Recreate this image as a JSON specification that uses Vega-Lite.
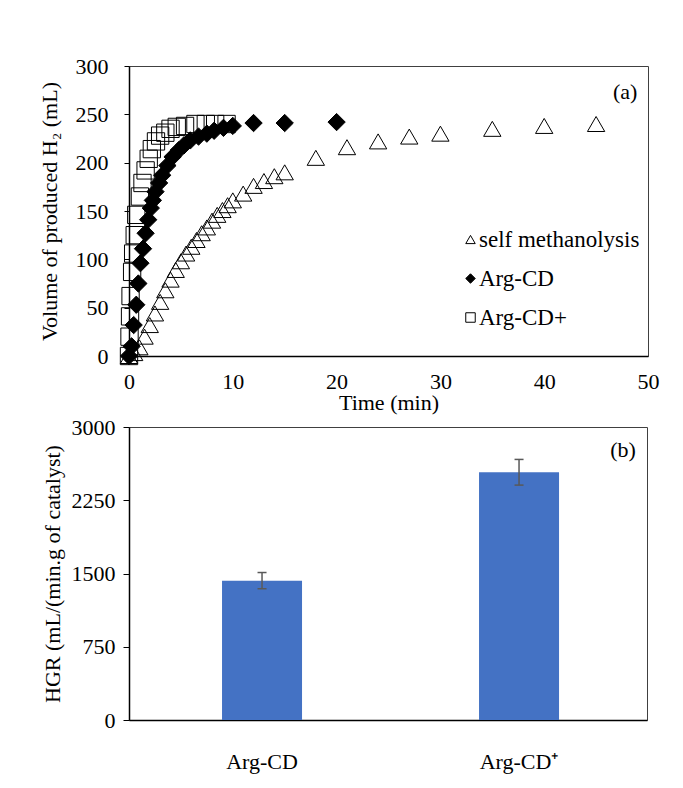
{
  "$schema": "https://vega.github.io/schema/vega-lite/v6.json",
  "padding": {"left": 37, "top": 54, "right": 10, "bottom": 10},
  "config": {
    "font": "Liberation Serif",
    "view": {"stroke": "#404040", "strokeWidth": 1},
    "axis": {
      "labelFont": "Liberation Serif", "titleFont": "Liberation Serif",
      "labelFontSize": 22, "titleFontSize": 22, "labelColor": "#000", "titleColor": "#000",
      "titleFontWeight": "normal", "domainColor": "#000", "domainWidth": 1.5, "tickColor": "#000", "grid": false,
      "labelFlush": false
    },
    "legend": {
      "labelFont": "Liberation Serif", "labelFontSize": 23, "labelColor": "#000", "labelLimit": 0,
      "symbolSize": 90, "symbolStrokeColor": "#000", "symbolStrokeWidth": 1,
      "rowPadding": 15, "labelOffset": -3, "padding": 0
    }
  },
  "concat": [
    {
      "width": 519, "height": 290,
      "data": {"values": [
        {"s": "self methanolysis", "t": 0, "v": 0},
        {"s": "self methanolysis", "t": 0.5, "v": 3},
        {"s": "self methanolysis", "t": 1, "v": 9},
        {"s": "self methanolysis", "t": 1.5, "v": 20},
        {"s": "self methanolysis", "t": 2, "v": 32},
        {"s": "self methanolysis", "t": 2.5, "v": 44},
        {"s": "self methanolysis", "t": 3, "v": 56},
        {"s": "self methanolysis", "t": 3.5, "v": 68},
        {"s": "self methanolysis", "t": 4, "v": 79},
        {"s": "self methanolysis", "t": 4.5, "v": 89},
        {"s": "self methanolysis", "t": 5, "v": 98},
        {"s": "self methanolysis", "t": 5.5, "v": 106},
        {"s": "self methanolysis", "t": 6, "v": 113},
        {"s": "self methanolysis", "t": 6.5, "v": 120},
        {"s": "self methanolysis", "t": 7, "v": 127},
        {"s": "self methanolysis", "t": 7.5, "v": 133},
        {"s": "self methanolysis", "t": 8, "v": 140},
        {"s": "self methanolysis", "t": 8.5, "v": 146},
        {"s": "self methanolysis", "t": 9, "v": 151},
        {"s": "self methanolysis", "t": 9.5, "v": 156},
        {"s": "self methanolysis", "t": 10, "v": 161},
        {"s": "self methanolysis", "t": 11, "v": 168},
        {"s": "self methanolysis", "t": 12, "v": 176},
        {"s": "self methanolysis", "t": 13, "v": 181},
        {"s": "self methanolysis", "t": 14, "v": 186},
        {"s": "self methanolysis", "t": 15, "v": 190},
        {"s": "self methanolysis", "t": 18, "v": 205},
        {"s": "self methanolysis", "t": 21, "v": 216},
        {"s": "self methanolysis", "t": 24, "v": 222},
        {"s": "self methanolysis", "t": 27, "v": 227},
        {"s": "self methanolysis", "t": 30, "v": 230},
        {"s": "self methanolysis", "t": 35, "v": 235},
        {"s": "self methanolysis", "t": 40, "v": 238},
        {"s": "self methanolysis", "t": 45, "v": 240},
        {"s": "Arg-CD+", "t": 0, "v": 0},
        {"s": "Arg-CD+", "t": 0.05, "v": 20},
        {"s": "Arg-CD+", "t": 0.1, "v": 41},
        {"s": "Arg-CD+", "t": 0.15, "v": 62},
        {"s": "Arg-CD+", "t": 0.3, "v": 87},
        {"s": "Arg-CD+", "t": 0.4, "v": 106},
        {"s": "Arg-CD+", "t": 0.55, "v": 125},
        {"s": "Arg-CD+", "t": 0.7, "v": 146},
        {"s": "Arg-CD+", "t": 1.05, "v": 165},
        {"s": "Arg-CD+", "t": 1.3, "v": 179},
        {"s": "Arg-CD+", "t": 1.6, "v": 192},
        {"s": "Arg-CD+", "t": 1.9, "v": 204},
        {"s": "Arg-CD+", "t": 2.2, "v": 214},
        {"s": "Arg-CD+", "t": 2.6, "v": 222},
        {"s": "Arg-CD+", "t": 3, "v": 228},
        {"s": "Arg-CD+", "t": 3.5, "v": 231},
        {"s": "Arg-CD+", "t": 4, "v": 235},
        {"s": "Arg-CD+", "t": 4.6, "v": 237},
        {"s": "Arg-CD+", "t": 5.4, "v": 238},
        {"s": "Arg-CD+", "t": 6.4, "v": 240},
        {"s": "Arg-CD+", "t": 7.4, "v": 240},
        {"s": "Arg-CD+", "t": 8.3, "v": 240},
        {"s": "Arg-CD+", "t": 9.4, "v": 240},
        {"s": "Arg-CD", "t": 0, "v": 0},
        {"s": "Arg-CD", "t": 0.25, "v": 10},
        {"s": "Arg-CD", "t": 0.45, "v": 32},
        {"s": "Arg-CD", "t": 0.7, "v": 53},
        {"s": "Arg-CD", "t": 0.9, "v": 75},
        {"s": "Arg-CD", "t": 1.1, "v": 96},
        {"s": "Arg-CD", "t": 1.35, "v": 111},
        {"s": "Arg-CD", "t": 1.6, "v": 127},
        {"s": "Arg-CD", "t": 1.85, "v": 141},
        {"s": "Arg-CD", "t": 2.1, "v": 153},
        {"s": "Arg-CD", "t": 2.3, "v": 161},
        {"s": "Arg-CD", "t": 2.55, "v": 170},
        {"s": "Arg-CD", "t": 2.9, "v": 179},
        {"s": "Arg-CD", "t": 3.2, "v": 187},
        {"s": "Arg-CD", "t": 3.7, "v": 197},
        {"s": "Arg-CD", "t": 4.2, "v": 206},
        {"s": "Arg-CD", "t": 4.8, "v": 213},
        {"s": "Arg-CD", "t": 5.3, "v": 218},
        {"s": "Arg-CD", "t": 5.9, "v": 223},
        {"s": "Arg-CD", "t": 6.7, "v": 227},
        {"s": "Arg-CD", "t": 7.5, "v": 230},
        {"s": "Arg-CD", "t": 8.2, "v": 233},
        {"s": "Arg-CD", "t": 9.1, "v": 236},
        {"s": "Arg-CD", "t": 10, "v": 238},
        {"s": "Arg-CD", "t": 12, "v": 241},
        {"s": "Arg-CD", "t": 15, "v": 241},
        {"s": "Arg-CD", "t": 20, "v": 242}
      ]},
      "layer": [
        {
          "mark": {"type": "point", "filled": true, "strokeWidth": 1, "opacity": 1, "size": 300},
          "encoding": {
            "x": {"field": "t", "type": "quantitative", "title": "Time (min)",
              "scale": {"domain": [0, 50], "nice": false},
              "axis": {"values": [0, 10, 20, 30, 40, 50], "ticks": false, "labelPadding": 15, "titlePadding": 0}},
            "y": {"field": "v", "type": "quantitative", "title": "Volume of produced H₂ (mL)",
              "scale": {"domain": [0, 300], "nice": false},
              "axis": {"values": [0, 50, 100, 150, 200, 250, 300], "tickSize": 5, "labelPadding": 16, "titlePadding": 14}},
            "shape": {"field": "s", "type": "nominal",
              "scale": {"domain": ["self methanolysis", "Arg-CD", "Arg-CD+"], "range": ["triangle-up", "diamond", "square"]},
              "legend": {"title": null, "orient": "none", "legendX": 330, "legendY": 162}},
            "fill": {"field": "s", "type": "nominal",
              "scale": {"domain": ["self methanolysis", "Arg-CD", "Arg-CD+"], "range": ["transparent", "#000000", "transparent"]},
              "legend": {"title": null, "orient": "none", "legendX": 330, "legendY": 162}},
            "stroke": {"field": "s", "type": "nominal",
              "scale": {"domain": ["self methanolysis", "Arg-CD", "Arg-CD+"], "range": ["#000000", "#000000", "#000000"]},
              "legend": {"title": null, "orient": "none", "legendX": 330, "legendY": 162}}
          }
        },
        {
          "data": {"values": [{"t": 47.8, "v": 273, "label": "(a)"}]},
          "mark": {"type": "text", "fontSize": 22, "font": "Liberation Serif", "color": "#000"},
          "encoding": {
            "x": {"field": "t", "type": "quantitative"},
            "y": {"field": "v", "type": "quantitative"},
            "text": {"field": "label"}
          }
        }
      ]
    },
    {
      "width": 518, "height": 293,
      "data": {"values": [
        {"c": "Arg-CD", "hgr": 1426, "lo": 1344, "hi": 1510},
        {"c": "Arg-CD⁺", "hgr": 2536, "lo": 2405, "hi": 2668}
      ]},
      "encoding": {
        "x": {"field": "c", "type": "nominal", "sort": null, "title": null,
          "scale": {"paddingInner": 0.6887, "paddingOuter": 0.3521, "align": 0.514},
          "axis": {"labelAngle": 0, "ticks": false, "labelPadding": 31}}
      },
      "layer": [
        {
          "mark": {"type": "bar", "color": "#4472C4"},
          "encoding": {
            "y": {"field": "hgr", "type": "quantitative", "title": "HGR (mL/(min.g of catalyst)",
              "scale": {"domain": [0, 3000], "nice": false},
              "axis": {"values": [0, 750, 1500, 2250, 3000], "format": "d", "tickSize": 6, "labelPadding": 8, "titlePadding": 7}}
          }
        },
        {
          "mark": {"type": "rule", "color": "#595959", "strokeWidth": 1.5},
          "encoding": {
            "y": {"field": "lo", "type": "quantitative", "title": "HGR (mL/(min.g of catalyst)"},
            "y2": {"field": "hi"}
          }
        },
        {
          "mark": {"type": "tick", "color": "#595959", "size": 9, "thickness": 1.5, "opacity": 1},
          "encoding": {"y": {"field": "lo", "type": "quantitative", "title": "HGR (mL/(min.g of catalyst)"}}
        },
        {
          "mark": {"type": "tick", "color": "#595959", "size": 9, "thickness": 1.5, "opacity": 1},
          "encoding": {"y": {"field": "hi", "type": "quantitative", "title": "HGR (mL/(min.g of catalyst)"}}
        },
        {
          "data": {"values": [{"c": "Arg-CD⁺", "v": 2765, "label": "(b)"}]},
          "mark": {"type": "text", "fontSize": 22, "font": "Liberation Serif", "color": "#000", "dx": 104},
          "encoding": {
            "y": {"field": "v", "type": "quantitative", "title": "HGR (mL/(min.g of catalyst)"},
            "text": {"field": "label"}
          }
        }
      ]
    }
  ],
  "columns": 1,
  "align": "none",
  "spacing": 1
}
